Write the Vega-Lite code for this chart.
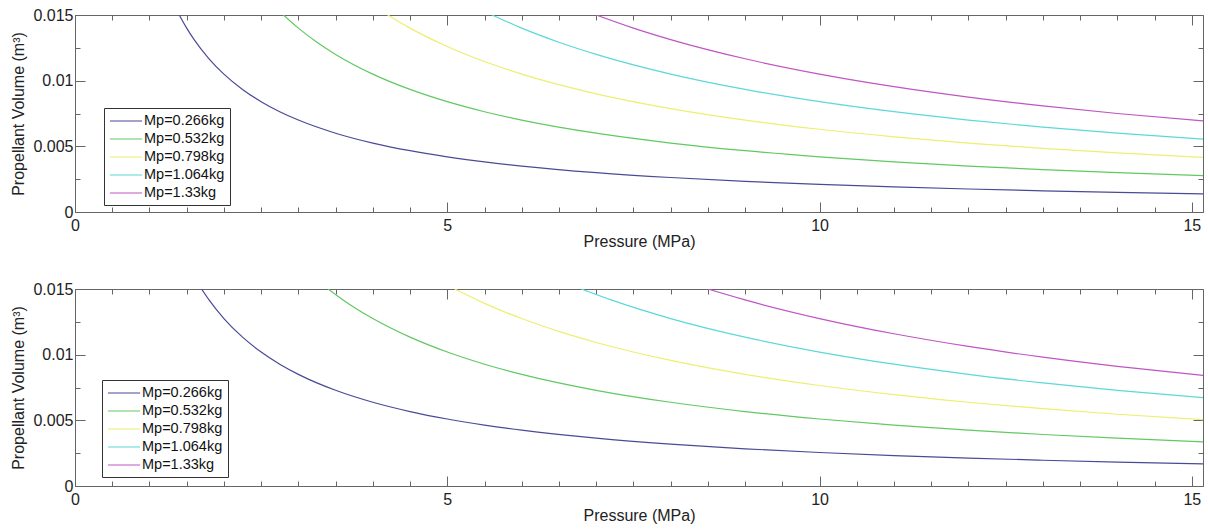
{
  "$schema": "https://vega.github.io/schema/vega-lite/v6.json",
  "background": "white",
  "padding": {"left": 10, "top": 6, "right": 2, "bottom": 0},
  "spacing": 30,
  "resolve": {"scale": {"color": "independent"}, "legend": {"color": "independent"}},
  "config": {
    "font": "Liberation Sans",
    "view": {"stroke": "#666", "strokeWidth": 1},
    "axis": {"grid": false, "labelFont": "Liberation Sans", "titleFont": "Liberation Sans", "labelFontSize": 16, "titleFontSize": 16, "titleFontWeight": "normal", "labelColor": "#222", "titleColor": "#222", "domainColor": "#666", "tickColor": "#666", "labelOverlap": false, "labelFlush": false},
    "legend": {"labelFont": "Liberation Sans", "labelFontSize": 14.5, "labelColor": "#111"}
  },
  "datasets": {
    "top": [
      {"Mp": "Mp=0.266kg", "P": 1.4, "V": 0.015},
      {"Mp": "Mp=0.266kg", "P": 1.5, "V": 0.014},
      {"Mp": "Mp=0.266kg", "P": 1.6, "V": 0.013125},
      {"Mp": "Mp=0.266kg", "P": 1.8, "V": 0.011667},
      {"Mp": "Mp=0.266kg", "P": 2, "V": 0.0105},
      {"Mp": "Mp=0.266kg", "P": 2.25, "V": 0.009333},
      {"Mp": "Mp=0.266kg", "P": 2.5, "V": 0.0084},
      {"Mp": "Mp=0.266kg", "P": 2.75, "V": 0.007636},
      {"Mp": "Mp=0.266kg", "P": 3, "V": 0.007},
      {"Mp": "Mp=0.266kg", "P": 3.5, "V": 0.006},
      {"Mp": "Mp=0.266kg", "P": 4, "V": 0.00525},
      {"Mp": "Mp=0.266kg", "P": 4.5, "V": 0.004667},
      {"Mp": "Mp=0.266kg", "P": 5, "V": 0.0042},
      {"Mp": "Mp=0.266kg", "P": 5.5, "V": 0.003818},
      {"Mp": "Mp=0.266kg", "P": 6, "V": 0.0035},
      {"Mp": "Mp=0.266kg", "P": 7, "V": 0.003},
      {"Mp": "Mp=0.266kg", "P": 8, "V": 0.002625},
      {"Mp": "Mp=0.266kg", "P": 9, "V": 0.002333},
      {"Mp": "Mp=0.266kg", "P": 10, "V": 0.0021},
      {"Mp": "Mp=0.266kg", "P": 11, "V": 0.001909},
      {"Mp": "Mp=0.266kg", "P": 12, "V": 0.00175},
      {"Mp": "Mp=0.266kg", "P": 13, "V": 0.001615},
      {"Mp": "Mp=0.266kg", "P": 14, "V": 0.0015},
      {"Mp": "Mp=0.266kg", "P": 15.15, "V": 0.001386},
      {"Mp": "Mp=0.532kg", "P": 2.8, "V": 0.015},
      {"Mp": "Mp=0.532kg", "P": 3, "V": 0.014},
      {"Mp": "Mp=0.532kg", "P": 3.25, "V": 0.012923},
      {"Mp": "Mp=0.532kg", "P": 3.5, "V": 0.012},
      {"Mp": "Mp=0.532kg", "P": 4, "V": 0.0105},
      {"Mp": "Mp=0.532kg", "P": 4.5, "V": 0.009333},
      {"Mp": "Mp=0.532kg", "P": 5, "V": 0.0084},
      {"Mp": "Mp=0.532kg", "P": 5.5, "V": 0.007636},
      {"Mp": "Mp=0.532kg", "P": 6, "V": 0.007},
      {"Mp": "Mp=0.532kg", "P": 7, "V": 0.006},
      {"Mp": "Mp=0.532kg", "P": 8, "V": 0.00525},
      {"Mp": "Mp=0.532kg", "P": 9, "V": 0.004667},
      {"Mp": "Mp=0.532kg", "P": 10, "V": 0.0042},
      {"Mp": "Mp=0.532kg", "P": 11, "V": 0.003818},
      {"Mp": "Mp=0.532kg", "P": 12, "V": 0.0035},
      {"Mp": "Mp=0.532kg", "P": 13, "V": 0.003231},
      {"Mp": "Mp=0.532kg", "P": 14, "V": 0.003},
      {"Mp": "Mp=0.532kg", "P": 15.15, "V": 0.002772},
      {"Mp": "Mp=0.798kg", "P": 4.2, "V": 0.015},
      {"Mp": "Mp=0.798kg", "P": 4.5, "V": 0.014},
      {"Mp": "Mp=0.798kg", "P": 5, "V": 0.0126},
      {"Mp": "Mp=0.798kg", "P": 5.5, "V": 0.011455},
      {"Mp": "Mp=0.798kg", "P": 6, "V": 0.0105},
      {"Mp": "Mp=0.798kg", "P": 7, "V": 0.009},
      {"Mp": "Mp=0.798kg", "P": 8, "V": 0.007875},
      {"Mp": "Mp=0.798kg", "P": 9, "V": 0.007},
      {"Mp": "Mp=0.798kg", "P": 10, "V": 0.0063},
      {"Mp": "Mp=0.798kg", "P": 11, "V": 0.005727},
      {"Mp": "Mp=0.798kg", "P": 12, "V": 0.00525},
      {"Mp": "Mp=0.798kg", "P": 13, "V": 0.004846},
      {"Mp": "Mp=0.798kg", "P": 14, "V": 0.0045},
      {"Mp": "Mp=0.798kg", "P": 15.15, "V": 0.004158},
      {"Mp": "Mp=1.064kg", "P": 5.6, "V": 0.015},
      {"Mp": "Mp=1.064kg", "P": 6, "V": 0.014},
      {"Mp": "Mp=1.064kg", "P": 6.5, "V": 0.012923},
      {"Mp": "Mp=1.064kg", "P": 7, "V": 0.012},
      {"Mp": "Mp=1.064kg", "P": 8, "V": 0.0105},
      {"Mp": "Mp=1.064kg", "P": 9, "V": 0.009333},
      {"Mp": "Mp=1.064kg", "P": 10, "V": 0.0084},
      {"Mp": "Mp=1.064kg", "P": 11, "V": 0.007636},
      {"Mp": "Mp=1.064kg", "P": 12, "V": 0.007},
      {"Mp": "Mp=1.064kg", "P": 13, "V": 0.006462},
      {"Mp": "Mp=1.064kg", "P": 14, "V": 0.006},
      {"Mp": "Mp=1.064kg", "P": 15.15, "V": 0.005545},
      {"Mp": "Mp=1.33kg", "P": 7, "V": 0.015},
      {"Mp": "Mp=1.33kg", "P": 7.5, "V": 0.014},
      {"Mp": "Mp=1.33kg", "P": 8, "V": 0.013125},
      {"Mp": "Mp=1.33kg", "P": 9, "V": 0.011667},
      {"Mp": "Mp=1.33kg", "P": 10, "V": 0.0105},
      {"Mp": "Mp=1.33kg", "P": 11, "V": 0.009545},
      {"Mp": "Mp=1.33kg", "P": 12, "V": 0.00875},
      {"Mp": "Mp=1.33kg", "P": 13, "V": 0.008077},
      {"Mp": "Mp=1.33kg", "P": 14, "V": 0.0075},
      {"Mp": "Mp=1.33kg", "P": 15.15, "V": 0.006931}
    ],
    "bottom": [
      {"Mp": "Mp=0.266kg", "P": 1.7, "V": 0.015},
      {"Mp": "Mp=0.266kg", "P": 1.8, "V": 0.014167},
      {"Mp": "Mp=0.266kg", "P": 2, "V": 0.01275},
      {"Mp": "Mp=0.266kg", "P": 2.25, "V": 0.011333},
      {"Mp": "Mp=0.266kg", "P": 2.5, "V": 0.0102},
      {"Mp": "Mp=0.266kg", "P": 2.75, "V": 0.009273},
      {"Mp": "Mp=0.266kg", "P": 3, "V": 0.0085},
      {"Mp": "Mp=0.266kg", "P": 3.5, "V": 0.007286},
      {"Mp": "Mp=0.266kg", "P": 4, "V": 0.006375},
      {"Mp": "Mp=0.266kg", "P": 4.5, "V": 0.005667},
      {"Mp": "Mp=0.266kg", "P": 5, "V": 0.0051},
      {"Mp": "Mp=0.266kg", "P": 5.5, "V": 0.004636},
      {"Mp": "Mp=0.266kg", "P": 6, "V": 0.00425},
      {"Mp": "Mp=0.266kg", "P": 7, "V": 0.003643},
      {"Mp": "Mp=0.266kg", "P": 8, "V": 0.003188},
      {"Mp": "Mp=0.266kg", "P": 9, "V": 0.002833},
      {"Mp": "Mp=0.266kg", "P": 10, "V": 0.00255},
      {"Mp": "Mp=0.266kg", "P": 11, "V": 0.002318},
      {"Mp": "Mp=0.266kg", "P": 12, "V": 0.002125},
      {"Mp": "Mp=0.266kg", "P": 13, "V": 0.001962},
      {"Mp": "Mp=0.266kg", "P": 14, "V": 0.001821},
      {"Mp": "Mp=0.266kg", "P": 15.15, "V": 0.001683},
      {"Mp": "Mp=0.532kg", "P": 3.4, "V": 0.015},
      {"Mp": "Mp=0.532kg", "P": 3.6, "V": 0.014167},
      {"Mp": "Mp=0.532kg", "P": 4, "V": 0.01275},
      {"Mp": "Mp=0.532kg", "P": 4.5, "V": 0.011333},
      {"Mp": "Mp=0.532kg", "P": 5, "V": 0.0102},
      {"Mp": "Mp=0.532kg", "P": 5.5, "V": 0.009273},
      {"Mp": "Mp=0.532kg", "P": 6, "V": 0.0085},
      {"Mp": "Mp=0.532kg", "P": 7, "V": 0.007286},
      {"Mp": "Mp=0.532kg", "P": 8, "V": 0.006375},
      {"Mp": "Mp=0.532kg", "P": 9, "V": 0.005667},
      {"Mp": "Mp=0.532kg", "P": 10, "V": 0.0051},
      {"Mp": "Mp=0.532kg", "P": 11, "V": 0.004636},
      {"Mp": "Mp=0.532kg", "P": 12, "V": 0.00425},
      {"Mp": "Mp=0.532kg", "P": 13, "V": 0.003923},
      {"Mp": "Mp=0.532kg", "P": 14, "V": 0.003643},
      {"Mp": "Mp=0.532kg", "P": 15.15, "V": 0.003366},
      {"Mp": "Mp=0.798kg", "P": 5.1, "V": 0.015},
      {"Mp": "Mp=0.798kg", "P": 5.5, "V": 0.013909},
      {"Mp": "Mp=0.798kg", "P": 6, "V": 0.01275},
      {"Mp": "Mp=0.798kg", "P": 6.5, "V": 0.011769},
      {"Mp": "Mp=0.798kg", "P": 7, "V": 0.010929},
      {"Mp": "Mp=0.798kg", "P": 8, "V": 0.009563},
      {"Mp": "Mp=0.798kg", "P": 9, "V": 0.0085},
      {"Mp": "Mp=0.798kg", "P": 10, "V": 0.00765},
      {"Mp": "Mp=0.798kg", "P": 11, "V": 0.006955},
      {"Mp": "Mp=0.798kg", "P": 12, "V": 0.006375},
      {"Mp": "Mp=0.798kg", "P": 13, "V": 0.005885},
      {"Mp": "Mp=0.798kg", "P": 14, "V": 0.005464},
      {"Mp": "Mp=0.798kg", "P": 15.15, "V": 0.00505},
      {"Mp": "Mp=1.064kg", "P": 6.8, "V": 0.015},
      {"Mp": "Mp=1.064kg", "P": 7.2, "V": 0.014167},
      {"Mp": "Mp=1.064kg", "P": 8, "V": 0.01275},
      {"Mp": "Mp=1.064kg", "P": 9, "V": 0.011333},
      {"Mp": "Mp=1.064kg", "P": 10, "V": 0.0102},
      {"Mp": "Mp=1.064kg", "P": 11, "V": 0.009273},
      {"Mp": "Mp=1.064kg", "P": 12, "V": 0.0085},
      {"Mp": "Mp=1.064kg", "P": 13, "V": 0.007846},
      {"Mp": "Mp=1.064kg", "P": 14, "V": 0.007286},
      {"Mp": "Mp=1.064kg", "P": 15.15, "V": 0.006733},
      {"Mp": "Mp=1.33kg", "P": 8.5, "V": 0.015},
      {"Mp": "Mp=1.33kg", "P": 9, "V": 0.014167},
      {"Mp": "Mp=1.33kg", "P": 10, "V": 0.01275},
      {"Mp": "Mp=1.33kg", "P": 11, "V": 0.011591},
      {"Mp": "Mp=1.33kg", "P": 12, "V": 0.010625},
      {"Mp": "Mp=1.33kg", "P": 13, "V": 0.009808},
      {"Mp": "Mp=1.33kg", "P": 14, "V": 0.009107},
      {"Mp": "Mp=1.33kg", "P": 15.15, "V": 0.008416}
    ]
  },
  "vconcat": [
    {
      "width": 1128,
      "height": 197,
      "data": {"name": "top"},
      "layer": [
        {
          "mark": {"type": "line", "strokeWidth": 1.2, "interpolate": "monotone", "clip": true},
          "encoding": {
            "x": {"field": "P", "type": "quantitative", "scale": {"domain": [0, 15.15], "nice": false, "zero": false},
              "axis": {"orient": "bottom", "values": [0,0.5,1,1.5,2,2.5,3,3.5,4,4.5,5,5.5,6,6.5,7,7.5,8,8.5,9,9.5,10,10.5,11,11.5,12,12.5,13,13.5,14,14.5,15], "format": "~g", "labelExpr": "datum.value % 5 === 0 ? datum.label : ''", "tickSize": {"condition": {"test": "datum.value % 5 === 0", "value": -10}, "value": -5}, "labelPadding": 15, "title": "Pressure (MPa)", "titlePadding": -5}},
            "y": {"field": "V", "type": "quantitative", "scale": {"domain": [0, 0.015], "nice": false},
              "axis": {"orient": "left", "values": [0,0.0025,0.005,0.0075,0.01,0.0125,0.015], "format": "~g", "labelExpr": "round(datum.value*10000) % 50 === 0 ? datum.label : ''", "tickSize": {"condition": {"test": "round(datum.value*10000) % 50 === 0", "value": -10}, "value": -5}, "labelPadding": 12, "title": "Propellant Volume (m³)", "titlePadding": 6}},
            "color": {"field": "Mp", "type": "nominal",
              "scale": {"domain": ["Mp=0.266kg","Mp=0.532kg","Mp=0.798kg","Mp=1.064kg","Mp=1.33kg"], "range": ["#4a4a96","#62c862","#eeee70","#5cd8d8","#bf55c4"]},
              "legend": {"orient": "none", "legendX": 29, "legendY": 93, "title": null, "symbolType": "M-2.3,0H2.3", "symbolSize": 196, "symbolStrokeWidth": 1.2, "symbolOffset": 9, "strokeColor": "#333", "fillColor": "white", "padding": 5, "rowPadding": 3, "labelLimit": 0, "labelOffset": 10}}
          }
        },
        {
          "mark": {"type": "line", "opacity": 0},
          "encoding": {
            "x": {"field": "P", "type": "quantitative", "scale": {"domain": [0, 15.15], "nice": false, "zero": false},
              "axis": {"orient": "top", "values": [0,0.5,1,1.5,2,2.5,3,3.5,4,4.5,5,5.5,6,6.5,7,7.5,8,8.5,9,9.5,10,10.5,11,11.5,12,12.5,13,13.5,14,14.5,15], "labels": false, "domain": false, "title": null, "tickSize": {"condition": {"test": "datum.value % 5 === 0", "value": -10}, "value": -5}}},
            "y": {"field": "V", "type": "quantitative", "scale": {"domain": [0, 0.015], "nice": false},
              "axis": {"orient": "right", "values": [0,0.0025,0.005,0.0075,0.01,0.0125,0.015], "labels": false, "domain": false, "title": null, "tickSize": {"condition": {"test": "round(datum.value*10000) % 50 === 0", "value": -10}, "value": -5}}},
            "detail": {"field": "Mp"}
          }
        }
      ],
      "resolve": {"axis": {"x": "independent", "y": "independent"}}
    },
    {
      "width": 1128,
      "height": 197,
      "data": {"name": "bottom"},
      "layer": [
        {
          "mark": {"type": "line", "strokeWidth": 1.2, "interpolate": "monotone", "clip": true},
          "encoding": {
            "x": {"field": "P", "type": "quantitative", "scale": {"domain": [0, 15.15], "nice": false, "zero": false},
              "axis": {"orient": "bottom", "values": [0,0.5,1,1.5,2,2.5,3,3.5,4,4.5,5,5.5,6,6.5,7,7.5,8,8.5,9,9.5,10,10.5,11,11.5,12,12.5,13,13.5,14,14.5,15], "format": "~g", "labelExpr": "datum.value % 5 === 0 ? datum.label : ''", "tickSize": {"condition": {"test": "datum.value % 5 === 0", "value": -10}, "value": -5}, "labelPadding": 15, "title": "Pressure (MPa)", "titlePadding": -5}},
            "y": {"field": "V", "type": "quantitative", "scale": {"domain": [0, 0.015], "nice": false},
              "axis": {"orient": "left", "values": [0,0.0025,0.005,0.0075,0.01,0.0125,0.015], "format": "~g", "labelExpr": "round(datum.value*10000) % 50 === 0 ? datum.label : ''", "tickSize": {"condition": {"test": "round(datum.value*10000) % 50 === 0", "value": -10}, "value": -5}, "labelPadding": 12, "title": "Propellant Volume (m³)", "titlePadding": 6}},
            "color": {"field": "Mp", "type": "nominal",
              "scale": {"domain": ["Mp=0.266kg","Mp=0.532kg","Mp=0.798kg","Mp=1.064kg","Mp=1.33kg"], "range": ["#4a4a96","#62c862","#eeee70","#5cd8d8","#bf55c4"]},
              "legend": {"orient": "none", "legendX": 27, "legendY": 91, "title": null, "symbolType": "M-2.3,0H2.3", "symbolSize": 196, "symbolStrokeWidth": 1.2, "symbolOffset": 9, "strokeColor": "#333", "fillColor": "white", "padding": 5, "rowPadding": 3, "labelLimit": 0, "labelOffset": 10}}
          }
        },
        {
          "mark": {"type": "line", "opacity": 0},
          "encoding": {
            "x": {"field": "P", "type": "quantitative", "scale": {"domain": [0, 15.15], "nice": false, "zero": false},
              "axis": {"orient": "top", "values": [0,0.5,1,1.5,2,2.5,3,3.5,4,4.5,5,5.5,6,6.5,7,7.5,8,8.5,9,9.5,10,10.5,11,11.5,12,12.5,13,13.5,14,14.5,15], "labels": false, "domain": false, "title": null, "tickSize": {"condition": {"test": "datum.value % 5 === 0", "value": -10}, "value": -5}}},
            "y": {"field": "V", "type": "quantitative", "scale": {"domain": [0, 0.015], "nice": false},
              "axis": {"orient": "right", "values": [0,0.0025,0.005,0.0075,0.01,0.0125,0.015], "labels": false, "domain": false, "title": null, "tickSize": {"condition": {"test": "round(datum.value*10000) % 50 === 0", "value": -10}, "value": -5}}},
            "detail": {"field": "Mp"}
          }
        }
      ],
      "resolve": {"axis": {"x": "independent", "y": "independent"}}
    }
  ]
}
